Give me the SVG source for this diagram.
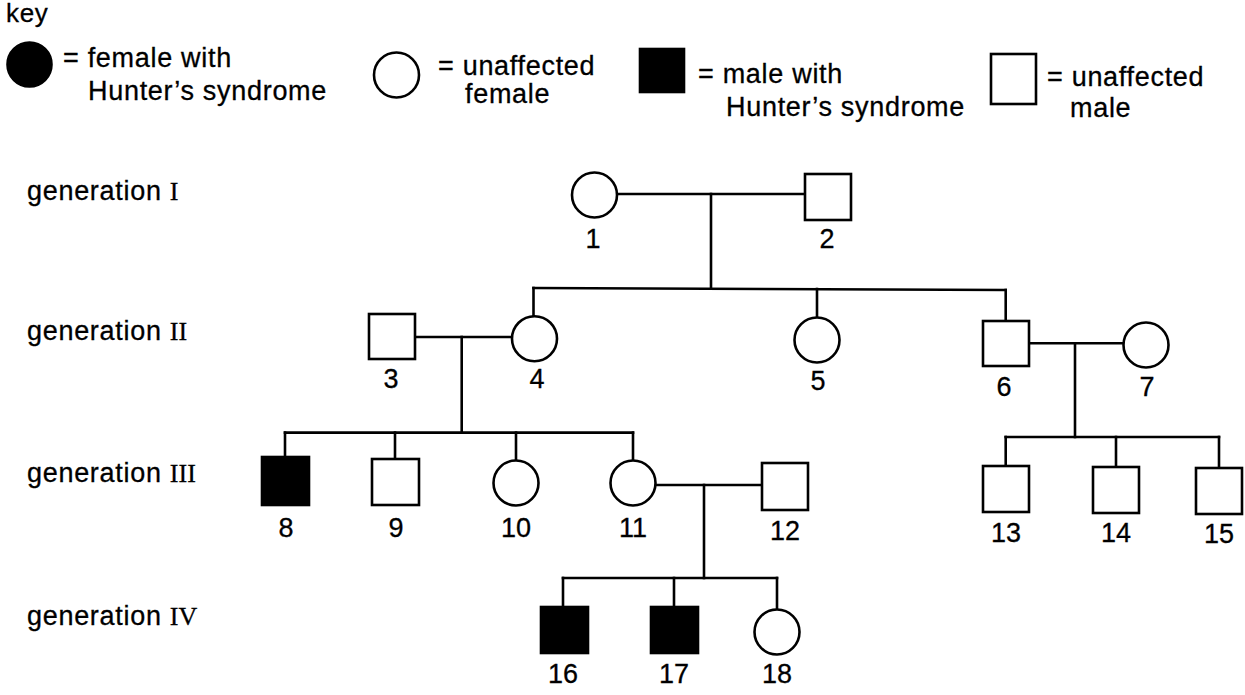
<svg xmlns="http://www.w3.org/2000/svg" width="1245" height="695" viewBox="0 0 1245 695">
<style>
  .t { font-family: "Liberation Sans", Arial, sans-serif; font-size: 27px; fill: #000; stroke: #000; stroke-width: 0.3; letter-spacing: 0.7px; }
  .n { font-family: "Liberation Sans", Arial, sans-serif; font-size: 27px; fill: #000; stroke: #000; stroke-width: 0.3; text-anchor: middle; }
  .r { font-family: "Liberation Serif", "Times New Roman", serif; font-size: 26px; letter-spacing: 0; }
  .open { fill: #fff; stroke: #000; stroke-width: 2.6; }
  .aff { fill: #000; stroke: #000; stroke-width: 2.6; }
  .ln { fill: none; stroke: #000; stroke-width: 2.6; stroke-linecap: square; }
</style>
<rect width="1245" height="695" fill="#fff"/>

<g id="key">
  <text class="t" x="6" y="22" style="font-size:26px">key</text>
  <circle class="aff" cx="29.5" cy="64.5" r="22"/>
  <text class="t" x="63" y="67">= female with</text>
  <text class="t" x="88" y="100">Hunter’s syndrome</text>
  <circle class="open" cx="396.5" cy="75" r="22.5"/>
  <text class="t" x="438" y="75">= unaffected</text>
  <text class="t" x="465" y="103">female</text>
  <rect class="aff" x="640" y="49" width="44" height="43"/>
  <text class="t" x="698" y="83">= male with</text>
  <text class="t" x="726" y="116">Hunter’s syndrome</text>
  <rect class="open" x="991" y="54" width="45" height="50"/>
  <text class="t" x="1047" y="86">= unaffected</text>
  <text class="t" x="1070" y="117">male</text>
</g>

<g id="generation-labels">
  <text class="t" x="27" y="200">generation <tspan class="r">I</tspan></text>
  <text class="t" x="27" y="340">generation <tspan class="r">II</tspan></text>
  <text class="t" x="27" y="482">generation <tspan class="r">III</tspan></text>
  <text class="t" x="27" y="625">generation <tspan class="r">IV</tspan></text>
</g>

<g id="connectors">
  <path class="ln" d="M617.5 194 H805"/>
  <path class="ln" d="M711 194 V288"/>
  <path class="ln" d="M533.5 288 L1005.7 290"/>
  <path class="ln" d="M533.5 288 V316"/>
  <path class="ln" d="M817 289 V317"/>
  <path class="ln" d="M1005.7 290 V321"/>
  <path class="ln" d="M415 337 H511.5"/>
  <path class="ln" d="M461.7 337 V432.6"/>
  <path class="ln" d="M285 432.6 H633"/>
  <path class="ln" d="M285 432.6 V457"/>
  <path class="ln" d="M395 432.6 V459"/>
  <path class="ln" d="M516 432.6 V460"/>
  <path class="ln" d="M633 432.6 V460"/>
  <path class="ln" d="M1029 343.3 H1123"/>
  <path class="ln" d="M1075 343.3 V437"/>
  <path class="ln" d="M1005.7 437 H1219"/>
  <path class="ln" d="M1005.7 437 V466"/>
  <path class="ln" d="M1116 437 V467"/>
  <path class="ln" d="M1219 437 V468"/>
  <path class="ln" d="M656 485 H762"/>
  <path class="ln" d="M704 485 V578"/>
  <path class="ln" d="M563 578 H777"/>
  <path class="ln" d="M563 578 V607"/>
  <path class="ln" d="M674 578 V607"/>
  <path class="ln" d="M777 578 V609"/>
</g>

<g id="n1"><circle class="open" cx="594.5" cy="195" r="22.5"/><text class="n" x="593" y="248">1</text></g>
<g id="n2"><rect class="open" x="805" y="174" width="46" height="46"/><text class="n" x="827" y="248">2</text></g>
<g id="n3"><rect class="open" x="369" y="314" width="46" height="45"/><text class="n" x="391" y="388">3</text></g>
<g id="n4"><circle class="open" cx="534.5" cy="338.7" r="22.5"/><text class="n" x="537" y="388">4</text></g>
<g id="n5"><circle class="open" cx="817" cy="340" r="22.5"/><text class="n" x="818" y="390">5</text></g>
<g id="n6"><rect class="open" x="983" y="321" width="46" height="45"/><text class="n" x="1004" y="396">6</text></g>
<g id="n7"><circle class="open" cx="1146" cy="345" r="22.5"/><text class="n" x="1147" y="396">7</text></g>
<g id="n8"><rect class="aff" x="262" y="457" width="47" height="48"/><text class="n" x="286" y="537">8</text></g>
<g id="n9"><rect class="open" x="372" y="459" width="47" height="46"/><text class="n" x="396" y="537">9</text></g>
<g id="n10"><circle class="open" cx="516" cy="483" r="22.5"/><text class="n" x="516" y="537">10</text></g>
<g id="n11"><circle class="open" cx="633" cy="483" r="22.5"/><text class="n" x="633" y="537">11</text></g>
<g id="n12"><rect class="open" x="762" y="463" width="46" height="47"/><text class="n" x="785" y="540">12</text></g>
<g id="n13"><rect class="open" x="983" y="466" width="46" height="46"/><text class="n" x="1006" y="542">13</text></g>
<g id="n14"><rect class="open" x="1093" y="467" width="46" height="46"/><text class="n" x="1116" y="542">14</text></g>
<g id="n15"><rect class="open" x="1196" y="468" width="46" height="46"/><text class="n" x="1219" y="543">15</text></g>
<g id="n16"><rect class="aff" x="541" y="607" width="47" height="46"/><text class="n" x="563" y="683">16</text></g>
<g id="n17"><rect class="aff" x="651" y="607" width="47" height="46"/><text class="n" x="674" y="683">17</text></g>
<g id="n18"><circle class="open" cx="777" cy="632" r="22.5"/><text class="n" x="777" y="683">18</text></g>
</svg>
